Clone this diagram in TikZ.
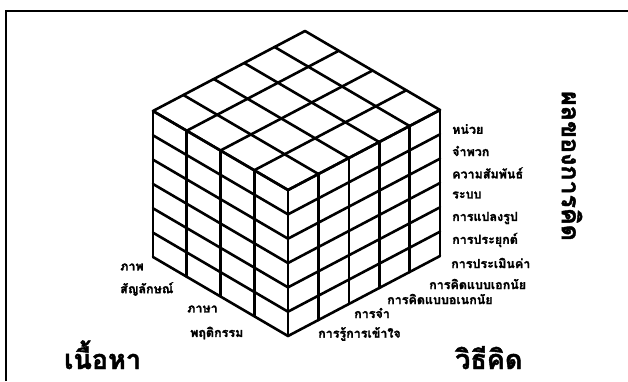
\documentclass[tikz,border=0pt]{standalone}
\usepackage{fontspec}
\newfontfamily\thaifont[Script=Thai, BoldFeatures={FakeBold=1.5}]{Loma}
\usetikzlibrary{calc}
\tikzset{
  cubeline/.style={line width=2.6pt, line cap=round, line join=round, black},
  framer/.style={line width=1.6pt, black},
  lab/.style={font=\thaifont\bfseries\fontsize{12.5}{14}\selectfont, inner sep=0pt, anchor=west},
  head/.style={font=\thaifont\bfseries\fontsize{27}{30}\selectfont, inner sep=0pt, text depth=0pt},
}
\begin{document}
\begin{tikzpicture}[x=1pt,y=-1pt]
\useasboundingbox (0,0) rectangle (628,381);
\fill[white] (0,0) rectangle (628,381);
% frame
\coordinate (fa) at (6,381);
\coordinate (fb) at (6,11);
\coordinate (fc) at (628,11);
\draw[framer] (fa) -- (fb) -- (fc);
% cube corners
\coordinate (L) at (153,111);
\coordinate (F) at (288,190);
\coordinate (R) at (440,110);
\coordinate (T) at ($(L)+(R)-(F)$);
% left face
\foreach \i in {0,...,4} \draw[cubeline] ($(L)!\i/4!(F)$) -- ++(0,146);
\foreach \j in {0,...,6} \draw[cubeline] ($(L)+(0,\j*146/6)$) -- ($(F)+(0,\j*146/6)$);
% right face
\foreach \k in {0,...,5} \draw[cubeline] ($(F)!\k/5!(R)$) -- ++(0,146);
\foreach \j in {0,...,6} \draw[cubeline] ($(F)+(0,\j*146/6)$) -- ($(R)+(0,\j*146/6)$);
% top face
\foreach \i in {0,...,4} \draw[cubeline] ($(L)!\i/4!(F)$) -- ($(T)!\i/4!(R)$);
\foreach \k in {0,...,5} \draw[cubeline] ($(L)!\k/5!(T)$) -- ($(F)!\k/5!(R)$);
% products
\node[lab] (p1) at (452,129) {หน่วย};
\node[lab] (p2) at (452,151) {จำพวก};
\node[lab] (p3) at (452,173) {ความสัมพันธ์};
\node[lab] (p4) at (452,195) {ระบบ};
\node[lab] (p5) at (452,218) {การแปลงรูป};
\node[lab] (p6) at (452,240) {การประยุกต์};
% operations
\node[lab] (o1) at (451,263) {การประเมินค่า};
\node[lab] (o2) at (429,284) {การคิดแบบเอกนัย};
\node[lab] (o3) at (387,299) {การคิดแบบอเนกนัย};
\node[lab] (o4) at (354,313) {การจำ};
\node[lab] (o5) at (318,334) {การรู้การเข้าใจ};
% contents
\node[lab] (c1) at (120,267) {ภาพ};
\node[lab] (c2) at (120,289) {สัญลักษณ์};
\node[lab] (c3) at (187,309) {ภาษา};
\node[lab] (c4) at (190,333) {พฤติกรรม};
% headings
\node[head, anchor=base west] (h1) at (64,369) {เนื้อหา};
\node[head, anchor=base west] (h2) at (455,369) {วิธีคิด};
\node[head, font=\thaifont\bfseries\fontsize{25}{28}\selectfont, rotate=-90] (h3) at (572,166) {ผลของการคิด};
\end{tikzpicture}
\end{document}
